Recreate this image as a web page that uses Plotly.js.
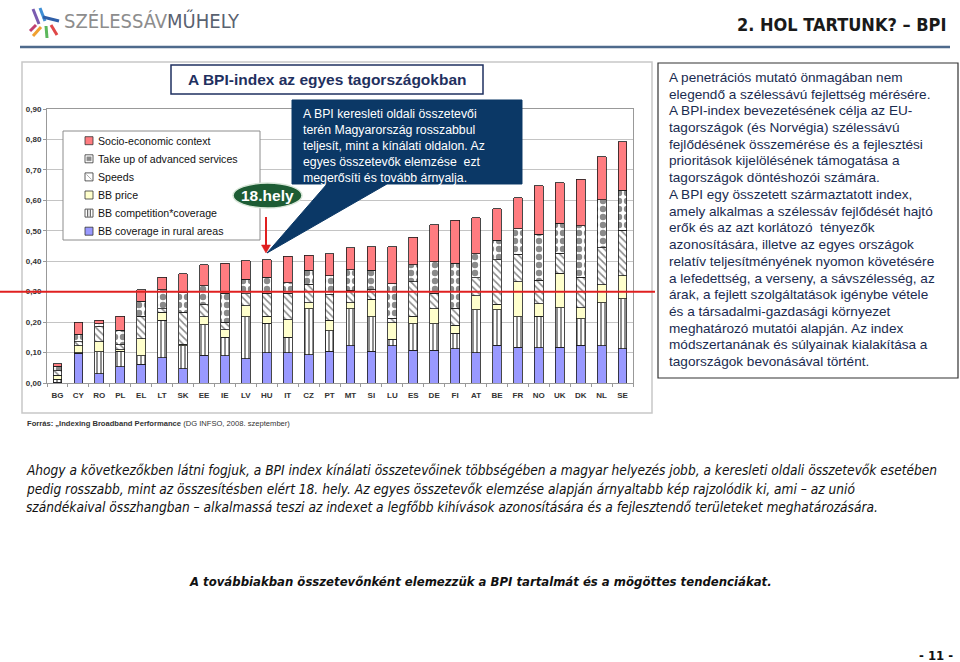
<!DOCTYPE html>
<html>
<head>
<meta charset="utf-8">
<script src="https://cdn.plot.ly/plotly-3.0.1.min.js"></script>
<style>html,body{margin:0;padding:0;background:#fff;}#chart{width:960px;height:662px;}</style>
</head>
<body>
<div id="chart"></div>
<script>
// ---- data ----
const countries = ['BG','CY','RO','PL','EL','LT','SK','EE','IE','LV','HU','IT','CZ','PT','MT','SI','LU','ES','DE','FI','AT','BE','FR','NO','UK','DK','NL','SE'];
const ruralCoverage = [0.002,0.098,0.031,0.053,0.061,0.083,0.047,0.091,0.090,0.080,0.100,0.100,0.093,0.105,0.123,0.105,0.123,0.107,0.107,0.113,0.099,0.124,0.118,0.116,0.118,0.124,0.122,0.113];
const competition   = [0.010,0.002,0.071,0.052,0.028,0.123,0.076,0.100,0.061,0.137,0.097,0.051,0.151,0.066,0.121,0.112,0.020,0.088,0.088,0.051,0.142,0.117,0.099,0.103,0.130,0.087,0.141,0.164];
const bbPrice       = [0.014,0.023,0.033,0.004,0.057,0.027,0.004,0.026,0.024,0.036,0.022,0.057,0.019,0.035,0.020,0.058,0.055,0.024,0.049,0.025,0.045,0.017,0.115,0.042,0.113,0.037,0.060,0.075];
const speeds        = [0.014,0.012,0.049,0.017,0.073,0.011,0.106,0.040,0.024,0.040,0.075,0.086,0.061,0.084,0.040,0.032,0.015,0.114,0.050,0.057,0.060,0.147,0.091,0.076,0.066,0.100,0.122,0.150];
const takeUp        = [0.015,0.025,0.011,0.047,0.049,0.063,0.063,0.062,0.095,0.047,0.054,0.036,0.046,0.062,0.068,0.063,0.113,0.056,0.104,0.148,0.079,0.064,0.084,0.151,0.097,0.168,0.157,0.131];
const socio         = [0.009,0.040,0.011,0.047,0.039,0.041,0.063,0.070,0.099,0.062,0.057,0.086,0.049,0.073,0.072,0.077,0.121,0.089,0.122,0.140,0.117,0.104,0.101,0.160,0.133,0.153,0.141,0.159];
const seriesNames = ['BB coverage in rural areas','BB competition*coverage','BB price','Speeds','Take up of advanced services','Socio-economic context'];
const yTicks = [0,0.1,0.2,0.3,0.4,0.5,0.6,0.7,0.8,0.9];
const benchmark = 0.30;

// ---- geometry helpers (pixel -> paper) ----
const L = 47, R = 327, T = 109, B = 279;
const PW = 960 - L - R, PH = 662 - T - B;
const X = p => (p - L) / PW;
const Y = p => (662 - B - p) / PH;
const P = pts => 'M ' + pts.map(q => X(q[0]).toFixed(5) + ',' + Y(q[1]).toFixed(5)).join(' L ') + ' Z';
const pline = (x0,y0,x1,y1,color,width) => ({type:'line', xref:'paper', yref:'paper', layer:'above', x0:X(x0), y0:Y(y0), x1:X(x1), y1:Y(y1), line:{color:color, width:width}});
const prect = (x0,y0,x1,y1,fill,lc,lw) => ({type:'rect', xref:'paper', yref:'paper', layer:'above', x0:X(x0), y0:Y(y1), x1:X(x1), y1:Y(y0), fillcolor:fill, line:{color:lc, width:lw}});

const outline = {color:'#1a1a1a', width:0.8};
const styles = [
  {color:'#9999ff', line:outline},
  {color:'#ffffff', line:outline, pattern:{shape:'|', fgcolor:'#444', bgcolor:'#ffffff', size:4, solidity:0.3}},
  {color:'#ffffcc', line:outline},
  {color:'#ffffff', line:outline, pattern:{shape:'\\', fgcolor:'#888', bgcolor:'#ffffff', size:5, solidity:0.3}},
  {color:'#ffffff', line:outline, pattern:{shape:'.', fgcolor:'#8a8a8a', bgcolor:'#ffffff', size:8, solidity:0.5}},
  {color:'#ff7c80', line:outline}
];
const values = [ruralCoverage, competition, bbPrice, speeds, takeUp, socio];
const traces = values.map((v,i) => ({
  type:'bar', x:countries, y:v, name:seriesNames[i], marker:styles[i], hoverinfo:'skip', showlegend:false
}));

const cond = '"DejaVu Sans Condensed","Liberation Sans Narrow",sans-serif';
const arial = 'Arial, "Liberation Sans", sans-serif';

const rightLines = [
 'A penetrációs mutató önmagában nem',
 'elegendő a szélessávú fejlettség mérésére.',
 'A BPI-index bevezetésének célja az EU-',
 'tagországok (és Norvégia) szélessávú',
 'fejlődésének összemérése és a fejlesztési',
 'prioritások kijelölésének támogatása a',
 'tagországok döntéshozói számára.',
 'A BPI egy összetett származtatott index,',
 'amely alkalmas a szélessáv fejlődését hajtó',
 'erők és az azt korlátozó  tényezők',
 'azonosítására, illetve az egyes országok',
 'relatív teljesítményének nyomon követésére',
 'a lefedettség, a verseny, a sávszélesség, az',
 'árak, a fejlett szolgáltatások igénybe vétele',
 'és a társadalmi-gazdasági környezet',
 'meghatározó mutatói alapján. Az index',
 'módszertanának és súlyainak kialakítása a',
 'tagországok bevonásával történt.'
];

const calloutText = [
 'A BPI keresleti oldali összetevői',
 'terén Magyarország rosszabbul',
 'teljesít, mint a kínálati oldalon. Az',
 'egyes összetevők elemzése  ezt',
 'megerősíti és tovább árnyalja.'
].join('<br>');

const paraLines = [
 'Ahogy a következőkben látni fogjuk, a BPI index kínálati összetevőinek többségében a magyar helyezés jobb, a keresleti oldali összetevők esetében',
 'pedig rosszabb, mint az összesítésben elért 18. hely. Az egyes összetevők elemzése alapján árnyaltabb kép rajzolódik ki, ami – az unió',
 'szándékaival összhangban – alkalmassá teszi az indexet a legfőbb kihívások azonosítására és a fejlesztendő területeket meghatározására.'
];

// legend (drawn by hand so the "18.hely" badge can sit above it)
const legendItems = [
  {name:'Socio-economic context', y:140.7},
  {name:'Take up of advanced services', y:158.8},
  {name:'Speeds', y:176.9},
  {name:'BB price', y:195.0},
  {name:'BB competition*coverage', y:213.1},
  {name:'BB coverage in rural areas', y:231.2}
];
const sw = (y) => [85, y-4, 93, y+4];

const shapes = [
  // header rule
  {type:'line', xref:'paper', yref:'paper', x0:X(20), x1:X(950), y0:Y(47), y1:Y(47), line:{color:'#4e6a8c', width:2.5}},
  // logo strokes
  pline(33,9,39,24,'#7a5cb0',3), pline(40,8,45,21,'#3f8fd6',3), pline(43,17,59,21,'#2f5fa8',3),
  pline(41,27,33,36,'#f0a030',3), pline(46,26,47,38,'#5cb85c',3), pline(51,25,57,35,'#e04848',3),
  pline(36,25,30,31,'#c04070',3),
  // chart container
  {type:'rect', xref:'paper', yref:'paper', x0:X(22), x1:X(652), y0:Y(413), y1:Y(62), line:{color:'#c8c8c8', width:1.5}, layer:'below'},
  // title box
  prect(171,65,483,94,'#ffffff','#1f3060',1.5),
  // right text box
  prect(658,63,958,378,'#ffffff','#333333',1.2),
  // legend box
  prect(63,131,260,240,'#ffffff','#8c8c8c',1),
  // legend swatches
  prect(...sw(140.7),'#ff7c80','#333',0.8),
  prect(...sw(158.8),'#ffffff','#333',0.8),
  prect(86.8,156.8,91.2,160.8,'#8a8a8a','#8a8a8a',0.5),
  prect(...sw(176.9),'#ffffff','#333',0.8),
  pline(86.5,174.5,91.5,179.5,'#999',0.8),
  prect(...sw(195.0),'#ffffcc','#333',0.8),
  prect(...sw(213.1),'#ffffff','#333',0.8),
  pline(87.7,209.5,87.7,216.7,'#333',0.9), pline(90.3,209.5,90.3,216.7,'#333',0.9),
  prect(...sw(231.2),'#9999ff','#333',0.8),
  // callout
  {type:'path', xref:'paper', yref:'paper', layer:'above', path:P([[292,100],[522,100],[522,184],[387,184],[267,253],[327,184],[292,184]]), fillcolor:'#0b3866', line:{color:'#0b3866', width:1}},
  // 18.hely ellipse
  {type:'circle', xref:'paper', yref:'paper', layer:'above', x0:X(233), x1:X(302), y0:Y(208), y1:Y(183), fillcolor:'#1d5c34', line:{color:'#d8e6d8', width:1.5}},
  // red arrow
  pline(266,217,266,246,'#e02020',2),
  {type:'path', xref:'paper', yref:'paper', layer:'above', path:P([[261.5,245],[270.5,245],[266,253]]), fillcolor:'#e02020', line:{color:'#e02020', width:0.5}},
  // benchmark line at 0.30
  {type:'line', xref:'paper', yref:'y', layer:'above', x0:X(0), x1:X(655), y0:benchmark, y1:benchmark, line:{color:'#e02020', width:2}}
];

const annotations = [
  {xref:'paper', yref:'paper', x:X(62), y:Y(21), xanchor:'left', yanchor:'middle', showarrow:false,
   text:'<span style="color:#8d8d8d">SZÉLESSÁV</span><span style="color:#5a6270">MŰHELY</span>', font:{family:cond, size:20}},
  {xref:'paper', yref:'paper', x:X(948), y:Y(24), xanchor:'right', yanchor:'middle', showarrow:false,
   text:'<b>2. HOL TARTUNK? – BPI</b>', font:{family:cond, size:18, color:'#1a1a1a'}},
  {xref:'paper', yref:'paper', x:X(327), y:Y(79.5), xanchor:'center', yanchor:'middle', showarrow:false,
   text:'<b>A BPI-index az egyes tagországokban</b>', font:{family:arial, size:15.5, color:'#1f3060'}},
  {xref:'paper', yref:'paper', x:X(301), y:Y(146), xanchor:'left', yanchor:'middle', align:'left', showarrow:false,
   text:calloutText, font:{family:arial, size:12.3, color:'#ffffff'}},
  {xref:'paper', yref:'paper', x:X(267.5), y:Y(195.5), xanchor:'center', yanchor:'middle', showarrow:false,
   text:'<b>18.hely</b>', font:{family:arial, size:15.5, color:'#ffffff'}},
  {xref:'paper', yref:'paper', x:X(25), y:Y(423), xanchor:'left', yanchor:'middle', showarrow:false,
   text:'<b>Forrás: „Indexing Broadband Performance</b> (DG INFSO, 2008. szeptember)', font:{family:arial, size:7.6, color:'#333'}},
  {xref:'paper', yref:'paper', x:X(480), y:Y(581), xanchor:'center', yanchor:'middle', showarrow:false,
   text:'<b><i>A továbbiakban összetevőnként elemezzük a BPI tartalmát és a mögöttes tendenciákat.</i></b>', font:{family:cond, size:13, color:'#111'}},
  {xref:'paper', yref:'paper', x:X(955), y:Y(655), xanchor:'right', yanchor:'middle', showarrow:false,
   text:'<b>- 11 -</b>', font:{family:cond, size:13, color:'#111'}}
];
legendItems.forEach(it => annotations.push({xref:'paper', yref:'paper', x:X(96), y:Y(it.y), xanchor:'left', yanchor:'middle', showarrow:false,
   text:it.name, font:{family:arial, size:10.6, color:'#111'}}));
rightLines.forEach((t,i) => annotations.push({xref:'paper', yref:'paper', x:X(667), y:Y(77.3 + i*16.73), xanchor:'left', yanchor:'middle', showarrow:false,
   text:t, font:{family:arial, size:13.6, color:'#1a2b50'}}));
paraLines.forEach((t,i) => annotations.push({xref:'paper', yref:'paper', x:X(24), y:Y(470 + i*18.5), xanchor:'left', yanchor:'middle', showarrow:false,
   text:'<i>' + t + '</i>', font:{family:cond, size:13.6, color:'#111'}}));

const layout = {
  width:960, height:662,
  margin:{l:L, r:R, t:T, b:B, pad:0},
  paper_bgcolor:'#ffffff', plot_bgcolor:'#ffffff',
  barmode:'stack', bargap:0.58,
  separators:', ',
  showlegend:false,
  xaxis:{type:'category', categoryorder:'array', categoryarray:countries, tickangle:0, ticklabelstandoff:4,
         showline:true, linecolor:'#999', mirror:true, ticks:'outside', tickson:'boundaries', ticklen:3, tickcolor:'#999',
         tickfont:{family:arial, size:8, color:'#333', weight:'bold'}, showgrid:false, fixedrange:true},
  yaxis:{range:[0,0.9], tickvals:yTicks, tickformat:'.2f',
         showline:true, linecolor:'#999', mirror:true, ticks:'outside', ticklen:3, tickcolor:'#999',
         gridcolor:'#c4c4c4', gridwidth:1, zeroline:false,
         tickfont:{family:arial, size:8, color:'#333', weight:'bold'}, fixedrange:true},
  shapes:shapes,
  annotations:annotations
};

Plotly.newPlot('chart', traces, layout, {staticPlot:true, displayModeBar:false});
</script>
</body>
</html>
